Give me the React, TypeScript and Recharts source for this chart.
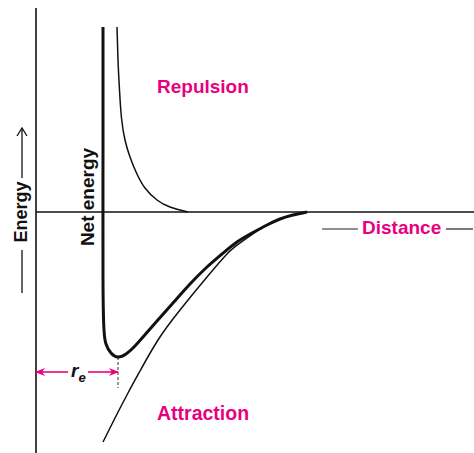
import React from 'react';
import { LineChart, Line, XAxis, YAxis, ReferenceLine } from 'recharts';

// distance r (arbitrary units, 0 = energy axis), energy E (0 = zero line)
const repulsion = [
  { r: 2.025, E: 4.625 },
  { r: 2.05, E: 3.8 },
  { r: 2.0875, E: 3.05 },
  { r: 2.1375, E: 2.35 },
  { r: 2.225, E: 1.8 },
  { r: 2.35, E: 1.375 },
  { r: 2.5125, E: 0.975 },
  { r: 2.725, E: 0.6 },
  { r: 3.025, E: 0.3 },
  { r: 3.35, E: 0.125 },
  { r: 3.8, E: 0 },
];

const netEnergy = [
  { r: 1.675, E: 4.625 },
  { r: 1.675, E: 1.55 },
  { r: 1.675, E: -1.7 },
  { r: 1.7, E: -2.95 },
  { r: 1.75, E: -3.3 },
  { r: 1.875, E: -3.525 },
  { r: 2.05, E: -3.625 },
  { r: 2.25, E: -3.55 },
  { r: 2.45, E: -3.375 },
  { r: 2.675, E: -3.125 },
  { r: 3.025, E: -2.725 },
  { r: 3.425, E: -2.275 },
  { r: 3.85, E: -1.8 },
  { r: 4.275, E: -1.375 },
  { r: 4.65, E: -1.05 },
  { r: 5.025, E: -0.75 },
  { r: 5.4, E: -0.525 },
  { r: 5.775, E: -0.325 },
  { r: 6.1, E: -0.175 },
  { r: 6.425, E: -0.075 },
  { r: 6.775, E: 0 },
];

const attraction = [
  { r: 1.675, E: -5.75 },
  { r: 1.975, E: -5.15 },
  { r: 2.3, E: -4.525 },
  { r: 2.6, E: -3.975 },
  { r: 3.05, E: -3.2 },
  { r: 3.6, E: -2.45 },
  { r: 4.275, E: -1.625 },
  { r: 4.775, E: -1.05 },
  { r: 5.1, E: -0.775 },
  { r: 5.775, E: -0.325 },
  { r: 6.425, E: -0.075 },
  { r: 6.775, E: 0 },
];

const rEquilibrium = 2.05; // position of the energy minimum
const rArrowE = -4.0;       // height of the r_e dimension arrow

const xDomain = [-0.9, 10.95];
const yDomain = [-6.025, 5.3];

const MAGENTA = '#e8007f';
const FONT = '"Liberation Sans", Arial, sans-serif';

const arrowShape = (color: string) => (p: any) => (
  <line x1={p.x1} y1={p.y1} x2={p.x2} y2={p.y2} stroke={color} strokeWidth={1.6} markerEnd="url(#arrowMag)" />
);

export default function App() {
  return (
    <div style={{ position: 'absolute', left: 0, top: 0, width: 474, height: 453, background: '#fff' }}>
      <LineChart width={474} height={453} margin={{ top: 0, right: 0, bottom: 0, left: 0 }}>
        <defs>
          <marker id="arrowMag" viewBox="0 0 10 8" refX={9} refY={4} markerWidth={10} markerHeight={8}
            markerUnits="userSpaceOnUse" orient="auto">
            <path d="M0,0 L10,4 L0,8 L3,4 z" fill={MAGENTA} />
          </marker>
        </defs>
        <XAxis type="number" dataKey="r" domain={xDomain} allowDataOverflow hide />
        <YAxis type="number" dataKey="E" domain={yDomain} allowDataOverflow hide />
        {/* energy axis and zero line */}
        <ReferenceLine segment={[{ x: 0, y: 5.1 }, { x: 0, y: yDomain[0] }]} stroke="#111" strokeWidth={1.6} ifOverflow="visible" />
        <ReferenceLine segment={[{ x: 0, y: 0 }, { x: xDomain[1], y: 0 }]} stroke="#111" strokeWidth={1.4} ifOverflow="visible" />
        {/* r_e dimension */}
        <ReferenceLine segment={[{ x: rEquilibrium, y: -3.625 }, { x: rEquilibrium, y: -4.4 }]} stroke="#333" strokeWidth={1} strokeDasharray="3 2" ifOverflow="visible" />
        <ReferenceLine segment={[{ x: 0.8, y: rArrowE }, { x: 0, y: rArrowE }]} ifOverflow="visible" shape={arrowShape(MAGENTA)} />
        <ReferenceLine segment={[{ x: 1.3, y: rArrowE }, { x: rEquilibrium, y: rArrowE }]} ifOverflow="visible" shape={arrowShape(MAGENTA)} />
        <Line data={repulsion} dataKey="E" type="natural" stroke="#111" strokeWidth={1.5} dot={false} activeDot={false} isAnimationActive={false} />
        <Line data={attraction} dataKey="E" type="natural" stroke="#111" strokeWidth={1.5} dot={false} activeDot={false} isAnimationActive={false} />
        <Line data={netEnergy} dataKey="E" type="natural" stroke="#111" strokeWidth={3} dot={false} activeDot={false} isAnimationActive={false} />
      </LineChart>
      <svg width={474} height={453} style={{ position: 'absolute', left: 0, top: 0, pointerEvents: 'none' }}>
        <g fontFamily={FONT} fontWeight="bold">
          <text x={157} y={93} fontSize={19} fill={MAGENTA}>Repulsion</text>
          <text x={157} y={420} fontSize={19.5} fill={MAGENTA}>Attraction</text>
          <text x={362} y={234} fontSize={19} fill={MAGENTA}>Distance</text>
          <text x={27} y={212} fontSize={18} fill="#111" textAnchor="middle" transform="rotate(-90 27 212)">Energy</text>
          <text x={94} y={197} fontSize={19} fill="#111" textAnchor="middle" transform="rotate(-90 94 197)">Net energy</text>
          <text x={71} y={377} fontSize={19} fill="#111" fontStyle="italic">r<tspan fontSize={13} dy={5}>e</tspan></text>
        </g>
        <line x1={322} y1={229} x2={358} y2={229} stroke="#222" strokeWidth={1.2} />
        <line x1={446} y1={229} x2={473} y2={229} stroke="#222" strokeWidth={1.2} />
        <line x1={22} y1={178} x2={22} y2={129} stroke="#111" strokeWidth={1.3} />
        <path d="M17,136 L22,128 L27,136" fill="none" stroke="#111" strokeWidth={1.3} />
        <line x1={22} y1={250} x2={22} y2={293} stroke="#111" strokeWidth={1.3} />
      </svg>
    </div>
  );
}
